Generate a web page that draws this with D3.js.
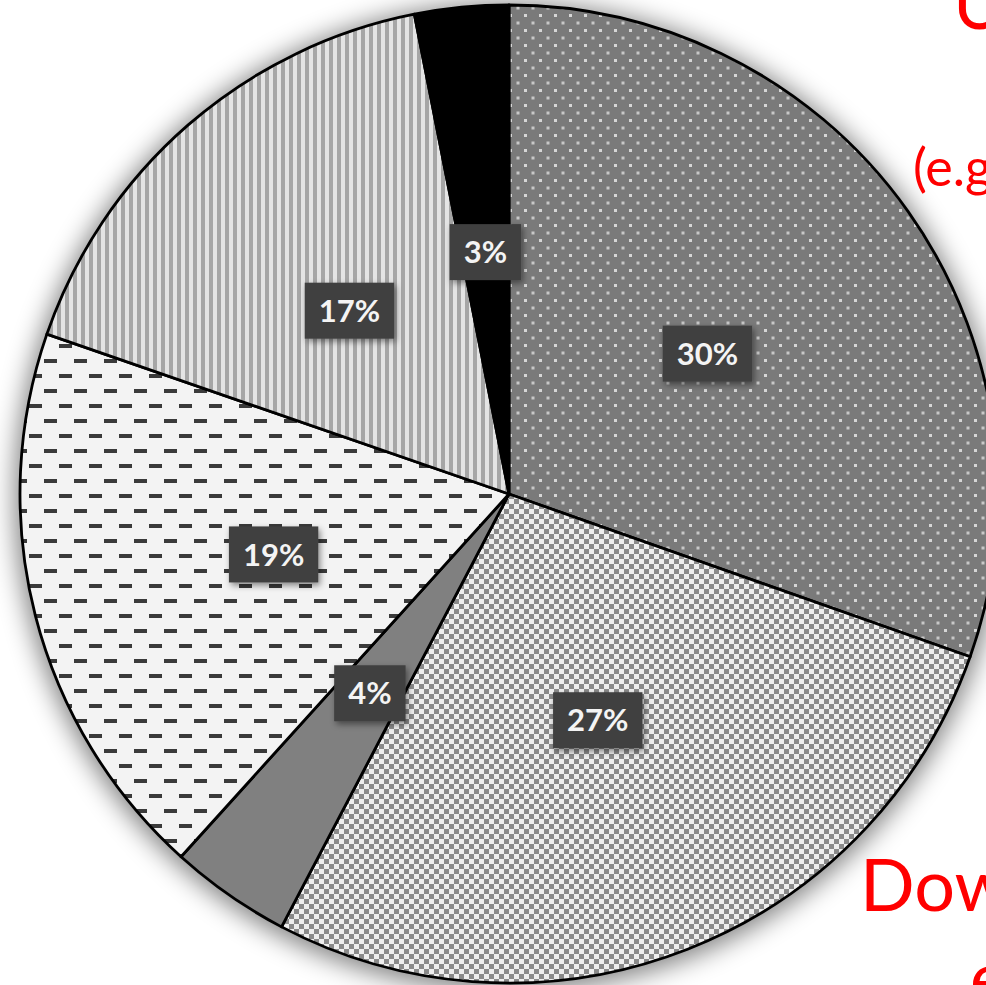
<!DOCTYPE html>
<html><head><meta charset="utf-8">
<script src="https://cdn.jsdelivr.net/npm/d3@7"></script>
<style>html,body{margin:0;padding:0;background:#fff;overflow:hidden}</style>
</head><body>
<svg id="c" width="986" height="985"></svg>
<script>
const categories = ["A", "B", "C", "D", "E", "F"];
const values = [30.4, 27.3, 4.0, 18.6, 16.6, 3.1];
const labels = ["30%", "27%", "4%", "19%", "17%", "3%"];
const fills = ["url(#dots)", "url(#checker)", "#808080", "url(#dashes)", "url(#stripes)", "#000000"];
const overlayTexts = ["U", "(e.g", "Dow", "e"];

const svg = d3.select("#c");
const W = 986, H = 985;
svg.append("rect").attr("width", W).attr("height", H).attr("fill", "#fff");
const defs = svg.append("defs");

// patterns
const pd = defs.append("pattern").attr("id", "dots").attr("patternUnits", "userSpaceOnUse")
  .attr("width", 15).attr("height", 15);
pd.append("rect").attr("width", 15).attr("height", 15).attr("fill", "#7a7a7a");
pd.append("rect").attr("x", 0).attr("y", 0).attr("width", 3).attr("height", 3).attr("fill", "#d6d6d6");
pd.append("rect").attr("x", 7.5).attr("y", 7.5).attr("width", 3).attr("height", 3).attr("fill", "#c8c8c8");

const pc = defs.append("pattern").attr("id", "checker").attr("patternUnits", "userSpaceOnUse")
  .attr("width", 10).attr("height", 10);
pc.append("rect").attr("width", 10).attr("height", 10).attr("fill", "#eeeeee");
pc.append("rect").attr("width", 5).attr("height", 5).attr("fill", "#8a8a8a");
pc.append("rect").attr("x", 5).attr("y", 5).attr("width", 5).attr("height", 5).attr("fill", "#8a8a8a");

const pdash = defs.append("pattern").attr("id", "dashes").attr("patternUnits", "userSpaceOnUse")
  .attr("width", 30).attr("height", 30);
pdash.append("rect").attr("width", 30).attr("height", 30).attr("fill", "#f3f3f3");
pdash.append("rect").attr("x", 0).attr("y", 0).attr("width", 13).attr("height", 4).attr("fill", "#3a3a3a");
pdash.append("rect").attr("x", 15).attr("y", 15).attr("width", 13).attr("height", 4).attr("fill", "#3a3a3a");

const ps = defs.append("pattern").attr("id", "stripes").attr("patternUnits", "userSpaceOnUse")
  .attr("width", 8).attr("height", 8);
ps.append("rect").attr("width", 8).attr("height", 8).attr("fill", "#e4e4e4");
ps.append("rect").attr("x", 4).attr("width", 4).attr("height", 8).attr("fill", "#a6a6a6");

const sh = defs.append("filter").attr("id", "shadow").attr("x", "-20%").attr("y", "-20%").attr("width", "140%").attr("height", "140%");
sh.append("feGaussianBlur").attr("stdDeviation", 13);
const sh2 = defs.append("filter").attr("id", "bshadow").attr("x", "-30%").attr("y", "-30%").attr("width", "160%").attr("height", "160%");
sh2.append("feDropShadow").attr("dx", 2).attr("dy", 3).attr("stdDeviation", 3).attr("flood-color", "#000").attr("flood-opacity", 0.45);

const cx = 509, cy = 494, r = 489;
const g = svg.append("g").attr("transform", `translate(${cx},${cy})`);

g.append("circle").attr("r", r + 5).attr("cy", 3).attr("fill", "#000").attr("opacity", 0.5).attr("filter", "url(#shadow)");

const pie = d3.pie().sort(null).value(d => d)(values);
const arc = d3.arc().innerRadius(0).outerRadius(r);
const labelArc = d3.arc().innerRadius(r * 0.497).outerRadius(r * 0.497);

g.selectAll("path.slice").data(pie).join("path")
  .attr("class", "slice")
  .attr("d", arc)
  .attr("fill", (d, i) => fills[i])
  .attr("stroke", "#000").attr("stroke-width", 2.8).attr("stroke-linejoin", "round");

const lg = g.selectAll("g.lab").data(pie).join("g").attr("class", "lab")
  .attr("transform", d => `translate(${labelArc.centroid(d)})`);
const rects = lg.append("rect").attr("fill", "#3f3f3f").attr("filter", "url(#bshadow)");
const texts = lg.append("text").text((d, i) => labels[i])
  .attr("text-anchor", "middle").attr("dy", "0.36em")
  .attr("fill", "#f4f4f4").attr("font-family", "Lato, 'Open Sans', sans-serif")
  .attr("font-weight", 700).attr("font-size", 31);
texts.each(function () {
  const bb = this.getBBox();
  const w = bb.width + 28, h = 56;
  d3.select(this.parentNode).select("rect")
    .attr("x", -w / 2).attr("y", -h / 2).attr("width", w).attr("height", h);
});

// red overlay texts (partially off-canvas, as in the reference)
const red = svg.append("g").attr("fill", "#ff0000").attr("font-family", "Lato, 'Open Sans', sans-serif");
red.append("text").text(overlayTexts[0]).attr("x", 953).attr("y", 29).attr("font-size", 72);
red.append("text").text(overlayTexts[1]).attr("x", 913).attr("y", 186).attr("font-size", 52);
red.append("text").text(overlayTexts[2]).attr("x", 860).attr("y", 911).attr("font-size", 72);
red.append("text").text(overlayTexts[3]).attr("x", 970).attr("y", 1003).attr("font-size", 72);
</script>
</body></html>
